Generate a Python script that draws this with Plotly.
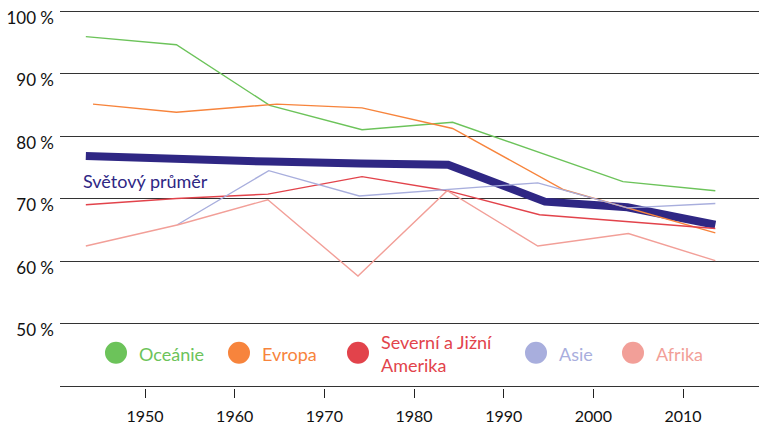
import plotly.graph_objects as go

# ---- data ----
oceanie_years = [1943.4, 1953.5, 1963.9, 1974.2, 1984.3, 2003.3, 2013.6]
oceanie = [95.9, 94.6, 84.9, 81.0, 82.2, 72.7, 71.25]

evropa_years = [1944.2, 1953.5, 1964.7, 1974.2, 1984.3, 1996.7, 2013.6]
evropa = [85.1, 83.8, 85.1, 84.5, 81.2, 71.4, 64.5]

amerika_years = [1943.4, 1953.5, 1963.7, 1974.2, 1983.7, 1994.0, 2013.6]
amerika = [69.0, 70.0, 70.7, 73.5, 71.25, 67.4, 65.2]

asie_years = [1953.6, 1963.8, 1973.9, 1993.8, 2003.8, 2013.6]
asie = [65.8, 74.45, 70.4, 72.5, 68.5, 69.2]

afrika_years = [1943.4, 1953.7, 1963.7, 1973.75, 1983.7, 1993.8, 2003.9, 2013.6]
afrika = [62.4, 65.8, 69.8, 57.6, 71.25, 62.4, 64.4, 60.05]

svet_years = [1943.4, 1953.5, 1963.9, 1974.0, 1983.8, 1994.6, 2003.8, 2013.6]
svet = [76.8, 76.2, 75.9, 75.6, 75.4, 69.5, 68.6, 65.8]

x_ticks = [1950, 1960, 1970, 1980, 1990, 2000, 2010]
y_ticks = [40, 50, 60, 70, 80, 90, 100]
y_labels = ["", "50 %", "60 %", "70 %", "80 %", "90 %", "100 %"]

series = [
    ("Oceánie", oceanie_years, oceanie, "#6cc35a"),
    ("Evropa", evropa_years, evropa, "#f7843c"),
    ("Severní a Jižní<br>Amerika", amerika_years, amerika, "#e2434b"),
    ("Asie", asie_years, asie, "#a8aedd"),
    ("Afrika", afrika_years, afrika, "#f29f98"),
]
NAVY = "#2f2784"
FONT = "Lato"

fig = go.Figure()
fig.add_trace(go.Scatter(x=svet_years, y=svet, mode="lines",
                         line=dict(color=NAVY, width=8), name="Světový průměr",
                         showlegend=False))
for name, xs, ys, col in series:
    fig.add_trace(go.Scatter(x=xs, y=ys, mode="lines",
                             line=dict(color=col, width=1.4), name=name,
                             showlegend=False))

# label for world average
fig.add_annotation(x=1942.9, y=72.8, xref="x", yref="y", text="Světový průměr",
                   showarrow=False, xanchor="left", yanchor="middle",
                   font=dict(family=FONT, size=18, color=NAVY))

# manual legend (circles + coloured text), paper coordinates
W0, W = 60, 699
H0, H = 388, 379
def px(xp):
    return (xp - W0) / W
def py(yp):
    return (H0 - yp) / H

legend_pos = [(116, 137), (239, 260), (358, 379), (536, 557), (633, 654)]
for (name, xs, ys, col), (cx, tx) in zip(series, legend_pos):
    fig.add_shape(type="circle", xref="paper", yref="paper",
                  xsizemode="pixel", ysizemode="pixel",
                  xanchor=px(cx), yanchor=py(352.7),
                  x0=-11, x1=11, y0=-11, y1=11,
                  fillcolor=col, line=dict(width=0))
    fig.add_annotation(x=px(tx), y=py(353.5), xref="paper", yref="paper",
                       text=name, showarrow=False, xanchor="left", yanchor="middle",
                       align="left", font=dict(family=FONT, size=18, color=col))

fig.update_layout(
    width=759, height=425,
    margin=dict(l=60, r=0, t=9, b=37, autoexpand=False),
    paper_bgcolor="white", plot_bgcolor="white",
    font=dict(family=FONT, size=17, color="#111"),
    xaxis=dict(range=[1940.52, 2018.47], tickvals=x_ticks, showgrid=False,
               zeroline=False, showline=False,
               ticks="outside", ticklen=9, tickcolor="#222", tickwidth=1,
               tickfont=dict(size=16),
               ticklabelstandoff=5, fixedrange=True, automargin=False),
    yaxis=dict(range=[39.68, 100.32], tickvals=y_ticks, ticktext=y_labels,
               showgrid=True, gridcolor="#333", gridwidth=1,
               zeroline=False, showline=False, ticks="",
               ticklabelshift=7, ticklabelstandoff=5, fixedrange=True,
               automargin=False),
    showlegend=False,
)

fig.write_html("out.html", config={"displayModeBar": False})
with open("out.html", encoding="utf-8") as f:
    html = f.read()
html = html.replace("<body>", '<body style="margin:0;padding:0;">', 1)
with open("out.html", "w", encoding="utf-8") as f:
    f.write(html)
